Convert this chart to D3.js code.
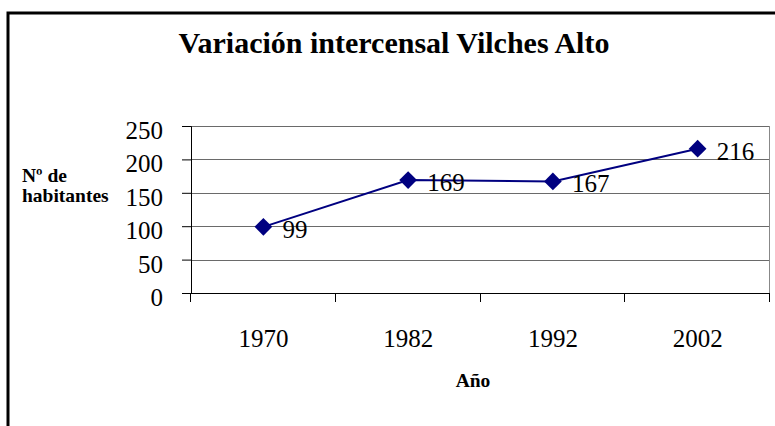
<!DOCTYPE html>
<html><head><meta charset="utf-8">
<script src="https://cdn.jsdelivr.net/npm/d3@7"></script>
<style>html,body{margin:0;padding:0;background:#fff;}svg{display:block;}
svg text{font-family:"Liberation Serif","Times New Roman","DejaVu Serif",serif !important;}</style>
</head><body>
<svg id="chart" width="775" height="426"></svg>
<script>
const years = ["1970", "1982", "1992", "2002"];
const population = [99, 169, 167, 216];
const yTicks = [0, 50, 100, 150, 200, 250];

const svg = d3.select("#chart");

// outer frame (cut at right/bottom as in reference)
svg.append("rect").attr("x", 8).attr("y", 13).attr("width", 790).attr("height", 440)
  .attr("fill", "none").attr("stroke", "#000").attr("stroke-width", 3);

const plot = {left: 191, right: 770, top: 126, bottom: 293};
const x = d3.scaleBand().domain(years).range([plot.left, plot.right]);
const y = d3.scaleLinear().domain([0, 250]).range([plot.bottom, plot.top]);

// gridlines
svg.append("g").selectAll("line").data(yTicks.filter(d => d > 0)).join("line")
  .attr("x1", plot.left).attr("x2", plot.right)
  .attr("y1", d => Math.round(y(d)) + 0.5).attr("y2", d => Math.round(y(d)) + 0.5)
  .attr("stroke", "#6a6a6a").attr("stroke-width", 1);
// right border of plot
svg.append("line").attr("x1", plot.right - 0.5).attr("x2", plot.right - 0.5)
  .attr("y1", plot.top).attr("y2", plot.bottom).attr("stroke", "#888").attr("stroke-width", 1);

// y axis
const yAxis = d3.axisLeft(y).tickValues(yTicks).tickSize(9).tickPadding(19).tickFormat(d3.format("d"));
const gy = svg.append("g").attr("transform", `translate(${plot.left},0)`).call(yAxis);
gy.attr("font-family", null);
gy.select(".domain").attr("stroke", "#000");
gy.selectAll(".tick line").attr("stroke", "#000");
gy.selectAll("text").attr("font-size", 25).attr("fill", "#000").attr("dy", "0.5em");

// x axis
const xAxis = d3.axisBottom(x).tickSize(0).tickPadding(36);
const gx = svg.append("g").attr("transform", `translate(0,${plot.bottom})`).call(xAxis);
gx.attr("font-family", null);
gx.select(".domain").remove();
gx.selectAll("text").attr("font-size", 25).attr("fill", "#000");
svg.append("line").attr("x1", plot.left).attr("x2", plot.right).attr("y1", plot.bottom + 0.5).attr("y2", plot.bottom + 0.5)
  .attr("stroke", "#000").attr("stroke-width", 1);
// category boundary ticks
const bounds = years.map(d => x(d)).concat([x(years[years.length - 1]) + x.bandwidth()]);
svg.append("g").selectAll("line").data(bounds).join("line")
  .attr("x1", d => Math.round(d) - 0.5).attr("x2", d => Math.round(d) - 0.5)
  .attr("y1", plot.bottom).attr("y2", plot.bottom + 9)
  .attr("stroke", "#000").attr("stroke-width", 1);

// line
const pts = years.map((yr, i) => ({yr, v: population[i]}));
const line = d3.line().x(d => x(d.yr) + x.bandwidth() / 2).y(d => y(d.v));
svg.append("path").datum(pts).attr("d", line).attr("fill", "none")
  .attr("stroke", "#000080").attr("stroke-width", 2);

// markers
const dia = d3.symbol().type(d3.symbolDiamond2).size(200);
svg.append("g").selectAll("path").data(pts).join("path")
  .attr("d", dia)
  .attr("transform", d => `translate(${x(d.yr) + x.bandwidth() / 2},${y(d.v)})`)
  .attr("fill", "#000080");

// data labels
svg.append("g").selectAll("text").data(pts).join("text")
  .attr("x", d => x(d.yr) + x.bandwidth() / 2 + 19)
  .attr("y", d => y(d.v) + 11)
  .attr("font-size", 25).attr("fill", "#000")
  .text(d => d.v);

// title
svg.append("text").attr("x", 394).attr("y", 53).attr("text-anchor", "middle")
  .attr("font-size", 30).attr("font-weight", "bold")
  .text("Variación intercensal Vilches Alto");

// axis titles
const yt = svg.append("text").attr("font-size", 19.5).attr("font-weight", "bold");
yt.append("tspan").attr("x", 22).attr("y", 182).text("Nº de");
yt.append("tspan").attr("x", 22).attr("y", 202).text("habitantes");

svg.append("text").attr("x", 473).attr("y", 387).attr("text-anchor", "middle")
  .attr("font-size", 19.5).attr("font-weight", "bold").text("Año");
</script>
</body></html>
